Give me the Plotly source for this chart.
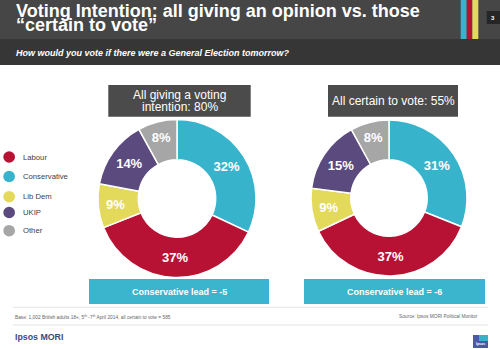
import plotly.graph_objects as go

W, H = 500, 349

# Data
parties = ["Conservative", "Labour", "Lib Dem", "UKIP", "Other"]
colors = ["#38b3cc", "#b71234", "#e3d95b", "#5b4a7e", "#a6a6a6"]
all_giving = [32, 37, 9, 14, 8]
certain_to_vote = [31, 37, 9, 15, 8]
panel_titles = [["All giving a voting", "intention: 80%"], ["All certain to vote: 55%"]]
lead_labels = ["Conservative lead = -5", "Conservative lead = -6"]
legend_order = ["Labour", "Conservative", "Lib Dem", "UKIP", "Other"]

FONT = "Liberation Sans"


def X(px):
    return px / W


def Y(py):
    return 1 - py / H


fig = go.Figure()

pie_boxes = [(97.5, 119.5, 256.5, 277.5), (311, 120, 467, 276)]
for vals, (x0, y0, x1, y1) in zip([all_giving, certain_to_vote], pie_boxes):
    fig.add_trace(go.Pie(
        labels=parties, values=vals, sort=False, direction="clockwise", rotation=0,
        hole=0.49,
        marker=dict(colors=colors, line=dict(color="white", width=1.5)),
        texttemplate="%{value}%", textposition="inside", insidetextorientation="horizontal",
        textfont=dict(family=FONT, size=13, color="white", weight="bold"),
        domain=dict(x=[X(x0), X(x1)], y=[Y(y1), Y(y0)]),
        showlegend=False, hoverinfo="label+value",
    ))

shapes = []
annotations = []


def rect(x0, y0, x1, y1, color, line=None):
    shapes.append(dict(type="rect", xref="paper", yref="paper", x0=X(x0), x1=X(x1),
                       y0=Y(y1), y1=Y(y0), fillcolor=color, layer="below",
                       line=dict(width=0) if line is None else line))


def text(x, y, s, size, color="white", weight="normal", xanchor="left", style="normal"):
    annotations.append(dict(xref="paper", yref="paper", x=X(x), y=Y(y), text=s,
                            showarrow=False, xanchor=xanchor, yanchor="middle",
                            font=dict(family=FONT, size=size, color=color, weight=weight,
                                      style=style)))


# Header bands
rect(0, 0, 500, 39, "#464646")
rect(0, 39, 500, 65, "#363636")
# Colour stripes
rect(460.7, 0, 466.7, 39, "#38b3cc")
rect(466.7, 0, 472.3, 39, "#b71234")
rect(472.3, 0, 478.3, 39, "#e3d95b")
# Page number
rect(486.7, 11, 500, 24, "#262626")
text(493.3, 17.5, "3", 6, weight="bold", xanchor="center")

text(14, 10.5, "Voting Intention: all giving an opinion vs. those", 18, weight="bold")
text(14, 25.5, "\u201ccertain to vote\u201d", 18, weight="bold")
text(14, 52.5, "How would you vote if there were a General Election tomorrow?", 9,
     weight="bold", style="italic")

# Panel title boxes
rect(108.3, 85, 250.7, 116.7, "#4b4b4b")
text(179.5, 95, panel_titles[0][0], 12, xanchor="center")
text(179.5, 106.7, panel_titles[0][1], 12, xanchor="center")
rect(328, 85, 458, 116.7, "#4b4b4b")
text(393, 100.8, panel_titles[1][0], 12, xanchor="center")

# Lead boxes
rect(89, 279, 269, 304, "#3bb4cd")
text(179, 291.5, lead_labels[0], 9, weight="bold", xanchor="center")
rect(304, 279, 485, 304, "#3bb4cd")
text(394.5, 291.5, lead_labels[1], 9, weight="bold", xanchor="center")

# Legend
legend_y = [157, 176.5, 196.7, 212.5, 230.7]
for name, ly in zip(legend_order, legend_y):
    c = colors[parties.index(name)]
    shapes.append(dict(type="circle", xref="paper", yref="paper",
                       x0=X(3.3), x1=X(15), y0=Y(ly + 5.8), y1=Y(ly - 5.8),
                       fillcolor=c, line=dict(width=0)))
    text(20.5, ly, name, 7.7, color="#404040")

# Footer rules
for ly in (307.3, 325):
    shapes.append(dict(type="line", xref="paper", yref="paper", x0=X(13), x1=X(488),
                       y0=Y(ly), y1=Y(ly), line=dict(color="#dedede", width=0.8)))
text(13, 316.5, "Base: 1,002 British adults 18+, 5<sup>th</sup> -7<sup>th</sup> April 2014, "
     "all certain to vote = 585", 4.8, color="#666666")
text(480, 316.5, "Source: Ipsos MORI Political Monitor", 4.8, color="#666666", xanchor="right")

text(12.5, 336.5, "Ipsos MORI", 8.8, color="#3c4a86", weight="bold")
# Logo block
rect(473, 335, 488, 348, "#4e59a6")
rect(479, 335, 488, 341, "#39b1c9")
text(480.5, 344, "Ipsos", 3.5, xanchor="center", weight="bold")

fig.update_layout(
    width=W, height=H, margin=dict(l=0, r=0, t=0, b=0),
    paper_bgcolor="white", plot_bgcolor="white",
    shapes=shapes, annotations=annotations,
)

fig.write_html("out.html")
